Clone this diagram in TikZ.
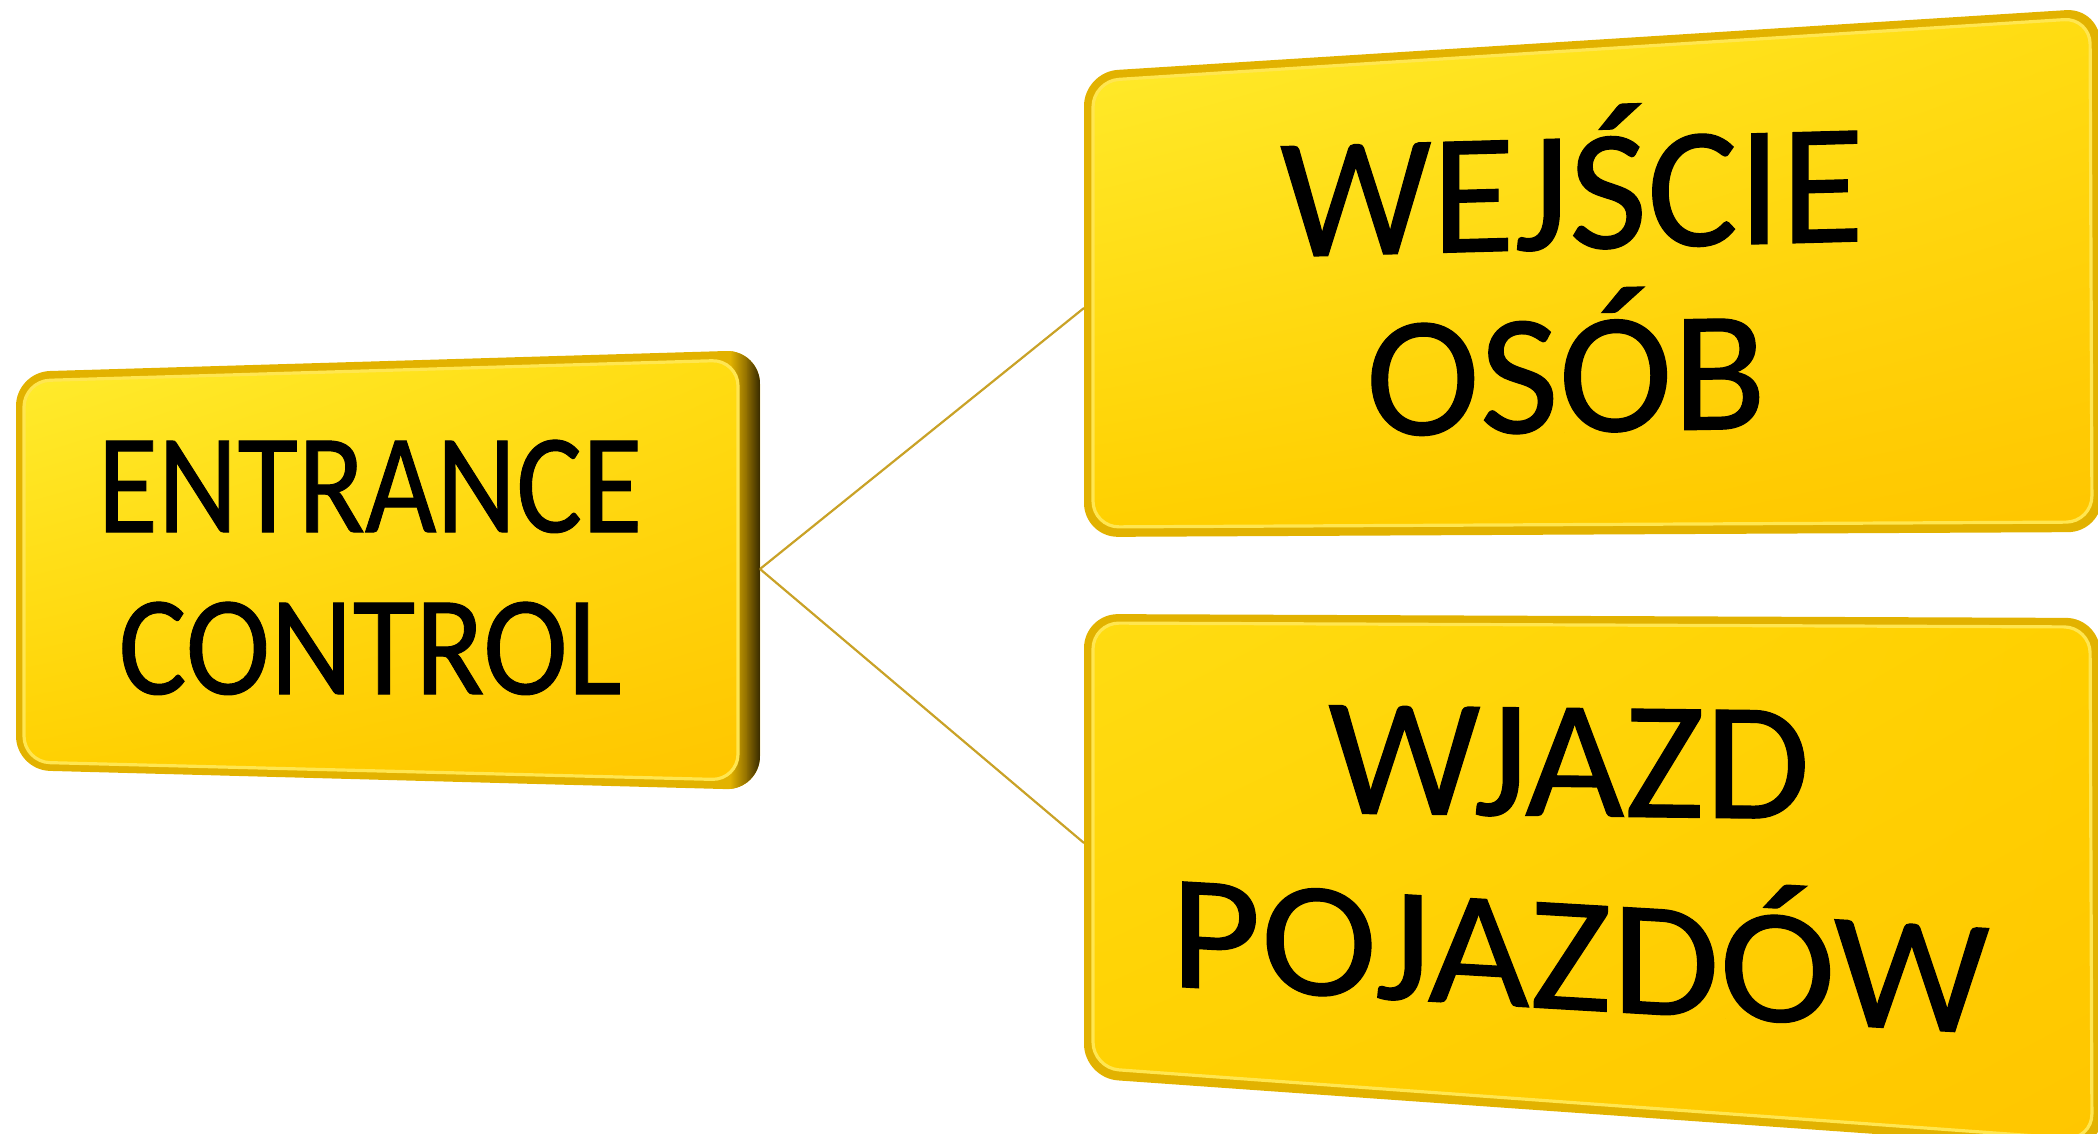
\documentclass[tikz,border=0pt]{standalone}
\usepackage{fontspec}
\setmainfont{Carlito}
\newfontfamily\signfont{Carlito}[FakeBold=0.7]
\usetikzlibrary{shadings}
\definecolor{rimgold}{HTML}{E2B200}
\definecolor{rimlight}{HTML}{FFE650}
\definecolor{sidemid}{HTML}{8A6A00}
\definecolor{sidedark}{HTML}{2A2000}
\definecolor{linkgold}{HTML}{C9A227}
\definecolor{ylA}{HTML}{FFEC2E}
\definecolor{ylB}{HTML}{FFDC12}
\definecolor{ylC}{HTML}{FFD000}
\definecolor{ylD}{HTML}{FFC600}
\tikzset{
  rim/.style={fill=rimgold, rounded corners=17pt},
  face/.style={rounded corners=13pt, draw=rimlight, line width=1.6pt},
  link/.style={draw=linkgold, line width=1.1pt},
  lbl/.style={anchor=base, inner sep=0pt, text=black},
}
\begin{document}
\begin{tikzpicture}[x=0.5pt,y=-0.5pt]
\useasboundingbox (0,0) rectangle (2098,1134);
\clip (0,0) rectangle (2098,1134);

% ---------- left box ----------
\path[rim] (16,372) -- (760,350) -- (760,790) -- (16,770) -- cycle;
\begin{scope}
  \clip[rounded corners=17pt] (16,372) -- (760,350) -- (760,790) -- (16,770) -- cycle;
  \shade[left color=rimgold, right color=sidemid] (730,340) rectangle (748,800);
  \shade[left color=sidemid, right color=sidedark] (747,340) rectangle (762,800);
\end{scope}
\shade[face, upper left=ylA, upper right=ylB, lower left=ylC, lower right=ylD]
  (24,381) -- (738,360) -- (738,780) -- (24,762) -- cycle;

% ---------- top right box ----------
\path[rim] (1084,72) -- (2100,8) -- (2102,532) -- (1084,537) -- cycle;
\shade[face, upper left=ylA, upper right=ylB, lower left=ylC, lower right=ylD]
  (1093,81) -- (2090,18) -- (2092,522) -- (1093,527) -- cycle;

% ---------- bottom right box ----------
\path[rim] (1084,614) -- (2100,618) -- (2102,1150) -- (1084,1078) -- cycle;
\shade[face, upper left=ylB, upper right=ylC, lower left=ylC, lower right=ylD]
  (1093,623) -- (2090,627) -- (2092,1140) -- (1093,1068) -- cycle;

% ---------- connectors ----------
\coordinate (ecR) at (760,569);
\coordinate (woL) at (1084,308);
\coordinate (wpL) at (1084,843);
\draw[link] (ecR) -- (woL);
\draw[link] (ecR) -- (wpL);

% ---------- texts ----------
\node[lbl, font=\signfont\fontsize{71}{71}\selectfont, xscale=0.87] (ec1) at (370,532) {ENTRANCE};
\node[lbl, font=\signfont\fontsize{71}{71}\selectfont, xscale=0.9] (ec2) at (370,694) {CONTROL};

\node[lbl, font=\signfont\fontsize{86}{86}\selectfont, xscale=0.99, yslant=0.027] (wo1) at (1572,249) {WEJŚCIE};
\node[lbl, font=\signfont\fontsize{86}{86}\selectfont, xscale=1.0, yslant=0.018] (wo2) at (1566,432) {OSÓB};

\node[lbl, font=\signfont\fontsize{84}{84}\selectfont, xscale=1.02, yslant=-0.012] (wp1) at (1569,816) {WJAZD};
\node[lbl, font=\signfont\fontsize{82}{82}\selectfont, xscale=1.07, yslant=-0.062] (wp2) at (1580,1010) {POJAZDÓW};
\end{tikzpicture}
\end{document}
